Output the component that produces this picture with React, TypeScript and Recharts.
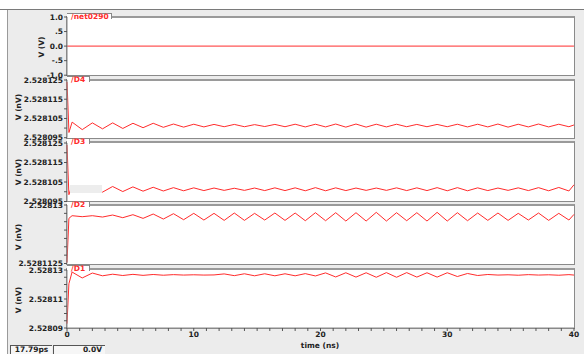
import React from "react";
import { LineChart, Line, XAxis, YAxis } from "recharts";

// time axis (ns), shared by the four node traces
const TIME = [
  0, 0.15, 0.4, 1.2, 2.0, 2.8, 3.6, 4.4, 5.2, 6.0, 6.8, 7.6, 8.4, 9.2, 10.0,
  10.8, 11.6, 12.4, 13.2, 14.0, 14.8, 15.6, 16.4, 17.2, 18.0, 18.8, 19.6, 20.4,
  21.2, 22.0, 22.8, 23.6, 24.4, 25.2, 26.0, 26.8, 27.6, 28.4, 29.2, 30.0, 30.8,
  31.6, 32.4, 33.2, 34.0, 34.8, 35.6, 36.4, 37.2, 38.0, 38.8, 39.6, 40,
];

const NET_TIME = [0, 40];
const NET0290 = [0, 0];

const D4 = [
  2.528124, 2.5280977, 2.5281031, 2.5280992, 2.5281027, 2.5280996, 2.5281027,
  2.5280998, 2.5281025, 2.5281002, 2.5281025, 2.5281004, 2.5281021, 2.5281005,
  2.528102, 2.5281006, 2.5281019, 2.5281007, 2.5281019, 2.5281007, 2.5281018,
  2.5281008, 2.5281019, 2.5281007, 2.528102, 2.5281006, 2.528102, 2.5281006,
  2.5281021, 2.5281005, 2.5281021, 2.5281005, 2.528102, 2.5281006, 2.528102,
  2.5281007, 2.5281019, 2.5281007, 2.5281019, 2.5281007, 2.528102, 2.5281006,
  2.528102, 2.5281006, 2.5281021, 2.5281005, 2.528102, 2.5281006, 2.5281021,
  2.5281006, 2.528102, 2.5281007, 2.5281016,
];

const D3 = [
  2.528124, 2.5280985, 2.5281032, 2.5280997, 2.528103, 2.5280998, 2.5281027,
  2.5281001, 2.5281025, 2.5281003, 2.5281023, 2.5281004, 2.5281021, 2.5281005,
  2.528102, 2.5281006, 2.5281019, 2.5281007, 2.5281018, 2.5281007, 2.5281019,
  2.5281006, 2.528102, 2.5281006, 2.528102, 2.5281005, 2.5281021, 2.5281005,
  2.528102, 2.5281006, 2.5281019, 2.5281007, 2.5281019, 2.5281007, 2.528102,
  2.5281006, 2.528102, 2.5281006, 2.5281021, 2.5281005, 2.5281021, 2.5281005,
  2.528102, 2.5281006, 2.5281019, 2.5281007, 2.528102, 2.5281006, 2.5281021,
  2.5281005, 2.5281022, 2.5281004, 2.5281036,
];

const D2 = [
  2.5281128, 2.528126, 2.5281268, 2.5281265, 2.5281268, 2.5281264, 2.528127,
  2.5281262, 2.5281271, 2.528126, 2.5281273, 2.5281258, 2.5281274, 2.5281256,
  2.5281275, 2.5281255, 2.5281275, 2.5281254, 2.5281276, 2.5281254, 2.5281275,
  2.5281255, 2.5281276, 2.5281254, 2.5281276, 2.5281253, 2.5281277, 2.5281253,
  2.5281277, 2.5281252, 2.5281277, 2.5281252, 2.5281278, 2.5281252, 2.5281277,
  2.5281253, 2.5281277, 2.5281252, 2.5281278, 2.5281252, 2.5281277, 2.5281253,
  2.5281276, 2.5281254, 2.5281276, 2.5281254, 2.5281275, 2.5281255, 2.5281276,
  2.5281254, 2.5281275, 2.5281255, 2.5281272,
];

const D1 = [
  2.528093, 2.5281205, 2.5281286, 2.5281245, 2.5281279, 2.528126, 2.5281271,
  2.5281262, 2.528127, 2.5281263, 2.5281269, 2.5281264, 2.5281268, 2.5281265,
  2.5281267, 2.5281265, 2.5281266, 2.5281273, 2.5281261, 2.5281274, 2.528126,
  2.5281274, 2.528126, 2.5281274, 2.528126, 2.5281275, 2.5281259, 2.528128,
  2.5281252, 2.5281281, 2.5281251, 2.5281281, 2.528125, 2.5281282, 2.528125,
  2.5281282, 2.5281251, 2.5281281, 2.5281251, 2.5281281, 2.5281255, 2.5281276,
  2.5281262, 2.5281269, 2.5281265, 2.5281267, 2.5281264, 2.5281268, 2.5281265,
  2.5281267, 2.5281264, 2.5281268, 2.5281265,
];

// y ticks per panel (labelled ones are picked out below)
const NET_TICKS = [-1, -0.5, 0, 0.5, 1];
const NET_LABELS = ["-1.0", "-.5", "0.0", ".5", "1.0"];
const D43_TICKS = [2.528095, 2.5281, 2.528105, 2.52811, 2.528115, 2.52812, 2.528125];
const D2_TICKS = [
  2.5281125, 2.528115, 2.5281175, 2.52812, 2.5281225, 2.528125, 2.5281275, 2.52813,
];
const D1_TICKS = [
  2.52809, 2.528095, 2.5281, 2.528105, 2.52811, 2.528115, 2.52812, 2.528125, 2.52813,
];
const X_TICKS = Array.from({ length: 41 }, (_, i) => i);

const rows = TIME.map((t, i) => ({ t, d4: D4[i], d3: D3[i], d2: D2[i], d1: D1[i] }));
const netRows = NET_TIME.map((t, i) => ({ t, v: NET0290[i] }));

const FONT = "DejaVu Sans";
const RED = "#ff2b2b";
const PAD = 6;
const tickStyle = { fontSize: 7.5, fontWeight: "bold", fill: "#222", fontFamily: FONT };

const idxOf = (ticks: number[], v: number) =>
  ticks.findIndex((t) => Math.abs(t - v) < 1e-9);

type PanelProps = {
  top: number;
  bottom: number;
  data: any[];
  dataKey: string;
  domain: [number, number];
  ticks: number[];
  fmt: (v: number) => string;
  showX?: boolean;
};

function Panel({ top, bottom, data, dataKey, domain, ticks, fmt, showX }: PanelProps) {
  const xh = showX ? 20 : 0;
  return (
    <LineChart
      width={584}
      height={bottom - top + xh + PAD * 2}
      data={data}
      margin={{ top: PAD, right: 10, bottom: PAD, left: 0 }}
      style={{ position: "absolute", left: 0, top: top - PAD }}
    >
      <XAxis
        dataKey="t"
        type="number"
        domain={[0, 40]}
        ticks={X_TICKS}
        interval={0}
        hide={!showX}
        height={xh}
        tickSize={3}
        tickMargin={1}
        tick={tickStyle}
        tickFormatter={(v) => (v % 10 === 0 ? String(v) : "")}
        axisLine={{ stroke: "#888" }}
        tickLine={{ stroke: "#555" }}
      />
      <YAxis
        type="number"
        domain={domain}
        ticks={ticks}
        interval={0}
        allowDataOverflow
        width={67}
        tickSize={3}
        tickMargin={1}
        tick={tickStyle}
        tickFormatter={fmt}
        axisLine={{ stroke: "#888" }}
        tickLine={{ stroke: "#555" }}
      />
      <Line
        dataKey={dataKey}
        stroke={RED}
        strokeWidth={1}
        dot={false}
        type="linear"
        isAnimationActive={false}
      />
    </LineChart>
  );
}

function Frame({ top, bottom, tabW }: { top: number; bottom: number; tabW: number }) {
  return (
    <>
      <div
        style={{
          position: "absolute",
          left: 66,
          top,
          width: 509,
          height: bottom - top,
          background: "#fff",
          borderTop: "2px solid #9a9a9a",
          borderLeft: "1px solid #8a8a8a",
          borderRight: "1px solid #8a8a8a",
          borderBottom: "1px solid #8a8a8a",
          boxSizing: "border-box",
        }}
      />
      <div
        style={{
          position: "absolute",
          left: 67,
          top: top - 3,
          width: tabW,
          height: 5,
          background: "#fff",
          borderTop: "1px solid #888",
          borderRight: "1px solid #888",
        }}
      />
    </>
  );
}

function TabLabel({ top, name }: { top: number; name: string }) {
  return (
    <div
      style={{
        position: "absolute",
        left: 71,
        top: top - 4,
        fontFamily: FONT,
        fontSize: 7.5,
        fontWeight: "bold",
        color: RED,
        lineHeight: "9px",
      }}
    >
      {name}
    </div>
  );
}

function YTitle({ x, y, text }: { x: number; y: number; text: string }) {
  return (
    <div
      style={{
        position: "absolute",
        left: x - 30,
        top: y - 5,
        width: 60,
        textAlign: "center",
        transform: "rotate(-90deg)",
        fontFamily: FONT,
        fontSize: 7.5,
        fontWeight: "bold",
        color: "#222",
        lineHeight: "10px",
      }}
    >
      {text}
    </div>
  );
}

const PANELS = [
  { name: "/net0290", tabW: 44, frame: [16, 76], dom: [17.3, 75.5] },
  { name: "/D4", tabW: 22, frame: [79, 139], dom: [80, 137.7] },
  { name: "/D3", tabW: 22, frame: [141, 202], dom: [142.5, 201] },
  { name: "/D2", tabW: 22, frame: [204, 265], dom: [205, 263.5] },
  { name: "/D1", tabW: 22, frame: [268, 329], dom: [270, 328] },
];

const statusText = {
  fontSize: 7.5,
  fontWeight: "bold" as const,
  color: "#222",
  lineHeight: "8px",
};

export default function App() {
  const fmtNet = (v: number) => NET_LABELS[idxOf(NET_TICKS, v)] ?? "";
  const fmtD43 = (v: number) => (idxOf(D43_TICKS, v) % 2 === 0 ? v.toFixed(6) : "");
  const fmtD2 = (v: number) => {
    const i = idxOf(D2_TICKS, v);
    return i === 0 ? "2.5281125" : i === D2_TICKS.length - 1 ? "2.52813" : "";
  };
  const fmtD1 = (v: number) => (idxOf(D1_TICKS, v) % 4 === 0 ? v.toFixed(5) : "");

  return (
    <div
      style={{
        position: "absolute",
        left: 0,
        top: 0,
        width: 584,
        height: 354,
        background: "#ececec",
        overflow: "hidden",
        fontFamily: FONT,
      }}
    >
      <div style={{ position: "absolute", left: 0, top: 0, width: 584, height: 9, background: "#fff", borderBottom: "1px solid #7a7a7a" }} />
      <div style={{ position: "absolute", left: 0, top: 10, width: 7, height: 344, background: "#fff", borderRight: "1px solid #9a9a9a" }} />

      {PANELS.map((p) => (
        <Frame key={p.name} top={p.frame[0]} bottom={p.frame[1]} tabW={p.tabW} />
      ))}

      <Panel top={PANELS[0].dom[0]} bottom={PANELS[0].dom[1]} data={netRows} dataKey="v" domain={[-1, 1]} ticks={NET_TICKS} fmt={fmtNet} />
      <Panel top={PANELS[1].dom[0]} bottom={PANELS[1].dom[1]} data={rows} dataKey="d4" domain={[2.528095, 2.528125]} ticks={D43_TICKS} fmt={fmtD43} />
      <Panel top={PANELS[2].dom[0]} bottom={PANELS[2].dom[1]} data={rows} dataKey="d3" domain={[2.528095, 2.528125]} ticks={D43_TICKS} fmt={fmtD43} />
      <Panel top={PANELS[3].dom[0]} bottom={PANELS[3].dom[1]} data={rows} dataKey="d2" domain={[2.5281125, 2.52813]} ticks={D2_TICKS} fmt={fmtD2} />
      <Panel top={PANELS[4].dom[0]} bottom={PANELS[4].dom[1]} data={rows} dataKey="d1" domain={[2.52809, 2.52813]} ticks={D1_TICKS} fmt={fmtD1} showX />

      {/* leftover cursor box over the D3 trace */}
      <div style={{ position: "absolute", left: 70, top: 185, width: 32, height: 8, background: "#ededed" }} />

      {PANELS.map((p) => (
        <TabLabel key={p.name} top={p.frame[0]} name={p.name} />
      ))}

      <YTitle x={42} y={47} text="V (V)" />
      <YTitle x={19} y={107} text="V (nV)" />
      <YTitle x={19} y={172} text="V (nV)" />
      <YTitle x={19} y={237} text="V (nV)" />
      <YTitle x={19} y={300} text="V (nV)" />

      <div style={{ position: "absolute", left: 290, top: 341, width: 60, textAlign: "center", fontSize: 7.5, fontWeight: "bold", color: "#222", lineHeight: "10px" }}>
        time (ns)
      </div>

      <div style={{ position: "absolute", left: 10, top: 345, width: 42, height: 10, background: "#f6f6f6", borderTop: "1px solid #555", borderLeft: "1px solid #555", boxSizing: "border-box", textAlign: "center", ...statusText }}>
        17.79ps
      </div>
      <div style={{ position: "absolute", left: 53, top: 345, width: 52, height: 10, background: "#f6f6f6", borderTop: "1px solid #555", borderLeft: "1px solid #555", boxSizing: "border-box", textAlign: "right", paddingRight: 3, ...statusText }}>
        0.0V
      </div>
    </div>
  );
}
